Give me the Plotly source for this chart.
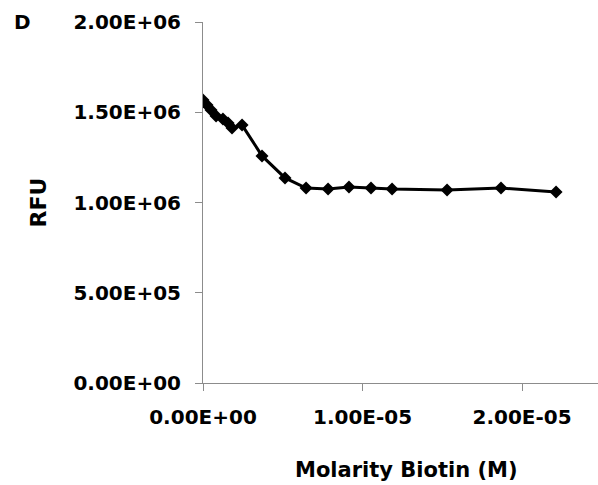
import plotly.graph_objects as go

# Data
molarity = [0, 2.5e-7, 5.0e-7, 8.2e-7, 1.25e-6, 1.57e-6, 1.82e-6, 2.45e-6, 3.7e-6,
            5.14e-6, 6.46e-6, 7.84e-6, 9.15e-6, 1.053e-5, 1.185e-5, 1.53e-5,
            1.868e-5, 2.213e-5]
rfu = [1.568e6, 1.540e6, 1.512e6, 1.479e6, 1.463e6, 1.440e6, 1.413e6, 1.429e6, 1.258e6,
       1.136e6, 1.080e6, 1.075e6, 1.086e6, 1.080e6, 1.075e6, 1.069e6,
       1.080e6, 1.058e6]

x_tickvals = [0, 1e-5, 2e-5]
x_ticktext = ["0.00E+00", "1.00E-05", "2.00E-05"]
y_tickvals = [0, 5e5, 1e6, 1.5e6, 2e6]
y_ticktext = ["0.00E+00", "5.00E+05", "1.00E+06", "1.50E+06", "2.00E+06"]

FONT = "DejaVu Sans"

fig = go.Figure()
fig.add_trace(go.Scatter(
    x=molarity, y=rfu, mode="lines+markers",
    line=dict(color="black", width=3),
    marker=dict(symbol="diamond", size=10, color="black"),
    showlegend=False,
))

axis_common = dict(
    showline=True, linecolor="#8c8c8c", linewidth=1,
    ticks="outside", tickcolor="#8c8c8c", ticklen=7, tickwidth=1,
    showgrid=False, zeroline=False,
    tickfont=dict(family=FONT, size=20, color="black", weight="bold"),
)

fig.update_layout(
    width=598, height=485,
    margin=dict(l=203, r=0, t=22, b=102),
    paper_bgcolor="white", plot_bgcolor="white",
    xaxis=dict(range=[0, 2.476e-5], tickmode="array", tickvals=x_tickvals,
               ticktext=x_ticktext, ticklabelstandoff=9, **axis_common),
    yaxis=dict(range=[0, 2e6], tickmode="array", tickvals=y_tickvals,
               ticktext=y_ticktext, ticklabelstandoff=10, **axis_common),
    annotations=[
        dict(text="Molarity Biotin (M)", xref="paper", yref="paper",
             x=0.515, y=-0.241, xanchor="center", yanchor="middle", showarrow=False,
             font=dict(family=FONT, size=21, color="black", weight="bold")),
        dict(text="RFU", xref="paper", yref="paper", textangle=-90,
             x=-0.4177, y=0.5, xanchor="center", yanchor="middle", showarrow=False,
             font=dict(family=FONT, size=22, color="black", weight="bold")),
        dict(text="D", xref="paper", yref="paper",
             x=-0.458, y=1.0, xanchor="center", yanchor="middle", showarrow=False,
             font=dict(family=FONT, size=20, color="black", weight="bold")),
    ],
)

fig.write_html("out.html")
